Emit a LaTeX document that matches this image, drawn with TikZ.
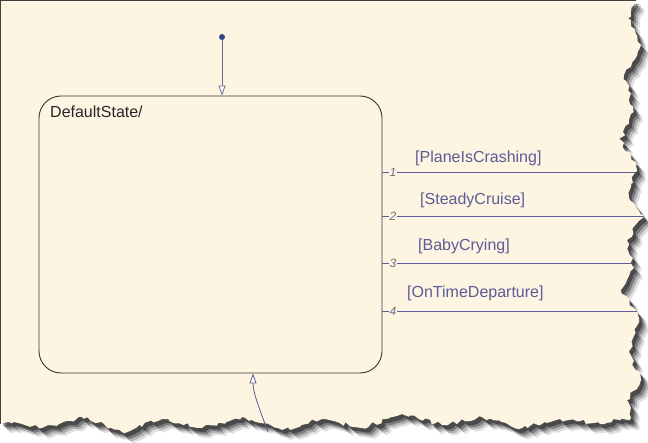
\documentclass[tikz,border=0pt]{standalone}
\usepackage{fontspec}
\setmainfont{Liberation Sans}
\usetikzlibrary{arrows.meta,decorations.pathmorphing}
\definecolor{cream}{RGB}{254,244,226}
\definecolor{boxline}{RGB}{55,55,55}
\definecolor{trans}{RGB}{92,92,150}
\definecolor{initc}{RGB}{110,110,140}
\definecolor{dotc}{RGB}{52,66,140}
\newcommand{\tornpath}{(0,0) -- (636,0) decorate[decoration={random steps,segment length=4pt,amplitude=2.2pt}]{
 -- (628,18) -- (641,45) -- (624,75) -- (633,108) -- (621,140) -- (636,166) -- (629,198) -- (644,216)
 -- (627,240) -- (634,268) -- (621,290) -- (639,318) -- (629,352) -- (641,380) -- (627,400) -- (631,418)
 -- (600,424) -- (560,419) -- (522,428) -- (482,417) -- (442,425) -- (402,414) -- (362,428) -- (322,419)
 -- (282,430) -- (242,417) -- (202,428) -- (162,419) -- (122,432) -- (82,417) -- (42,428) -- (0,421)} -- cycle}
\tikzset{
  statebox/.style={draw=boxline, line width=0.9pt, rounded corners=22pt, fill=cream, inner sep=0pt},
  trline/.style={draw=trans, line width=0.8pt},
  tip/.style={-{Triangle[fill=white,length=10pt,width=7pt]}},
  guard/.style={text=trans, font=\fontsize{16}{19}\selectfont, inner sep=0pt, anchor=base west},
  numlab/.style={text=initc, font=\fontsize{12}{14}\selectfont\itshape, inner sep=0.6pt},
}
\begin{document}
\begin{tikzpicture}[x=1pt,y=-1pt]
\useasboundingbox (0,0) rectangle (648,443);
\fill[white] (0,0) rectangle (648,443);
% shadow of torn paper
\foreach \dx/\dy/\op in {9/10/0.12, 7/8/0.2, 5/6/0.3, 3/4/0.4}{
  \pgfmathsetseed{7}
  \fill[black, opacity=\op, shift={(\dx,\dy)}] \tornpath;
}
\pgfmathsetseed{7}
\fill[cream] \tornpath;
\draw[black!75, line width=1pt] (0.5,424) -- (0.5,0.5) -- (636,0.5);

% state
\node[statebox, minimum width=343pt, minimum height=277pt] (S) at (210.5,234.5) {};
\node[text=black!85, font=\fontsize{16}{19}\selectfont, inner sep=0pt, anchor=base west] (SL) at (50,118) {DefaultState/};

% default transition
\node[circle, fill=dotc, inner sep=0pt, minimum size=6pt] (dot) at (222,37) {};
\draw[initc, line width=0.8pt, tip] (dot.south) -- (dot |- S.north);

% incoming transition from bottom
\coordinate (b0) at (268,432);
\draw[trans, line width=0.8pt, tip] (b0) .. controls (258,405) and (253,392) .. (S.south -| 253,0);

% outgoing transitions
\node[numlab] (n1) at (393,172) {1};
\node[numlab] (n2) at (393,216.5) {2};
\node[numlab] (n3) at (393,263.3) {3};
\node[numlab] (n4) at (393,311) {4};
\coordinate (e1) at (660,172);
\coordinate (e2) at (660,216.5);
\coordinate (e3) at (660,263.3);
\coordinate (e4) at (660,311);
\begin{scope}
\pgfmathsetseed{7}
\clip \tornpath;
\foreach \i in {1,2,3,4}{
  \draw[trline] (S.east |- n\i) -- (n\i.west);
  \draw[trline] (n\i.east) -- (e\i);
}
\end{scope}
\node[guard] (g1) at (415,163) {[PlaneIsCrashing]};
\node[guard] (g2) at (420,205) {[SteadyCruise]};
\node[guard] (g3) at (418,251) {[BabyCrying]};
\node[guard] (g4) at (407,298) {[OnTimeDeparture]};
\end{tikzpicture}
\end{document}
